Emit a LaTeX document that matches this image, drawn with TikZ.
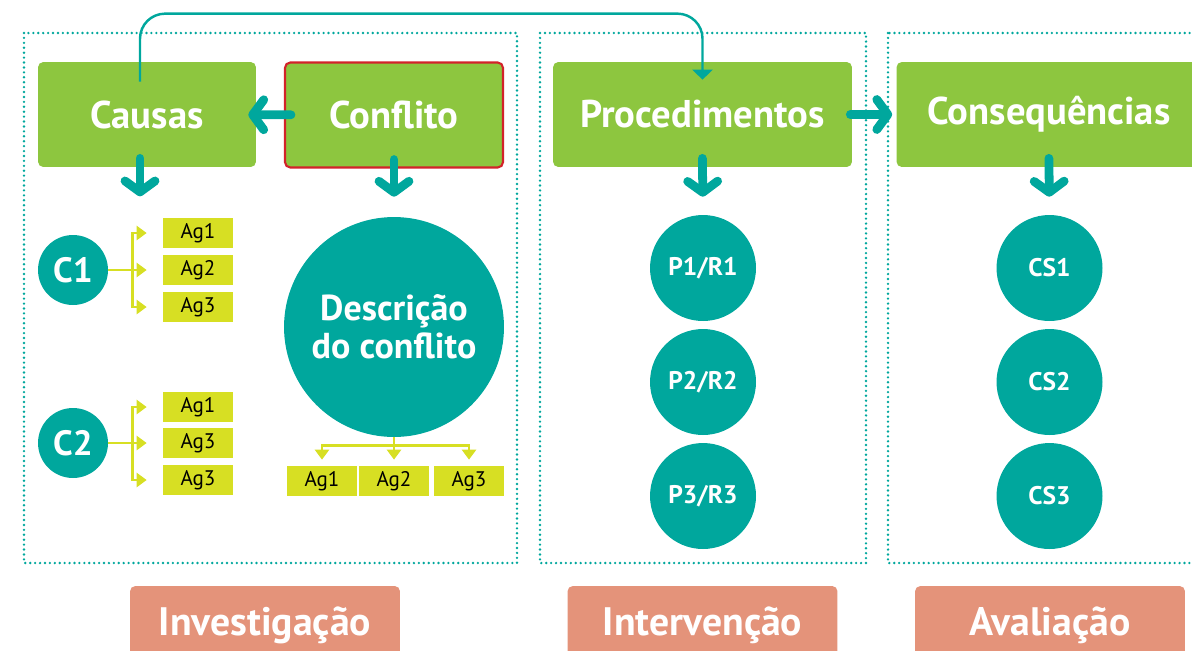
\documentclass[tikz,border=0pt]{standalone}
\usepackage{fontspec}
\setmainfont{PT Sans}
\usepackage{tikz}
\usetikzlibrary{arrows.meta}
\definecolor{verde}{HTML}{8DC63F}
\definecolor{petroleo}{HTML}{00A79D}
\definecolor{amarelo}{HTML}{D7DF23}
\definecolor{vermelho}{HTML}{D2232A}
\definecolor{salmao}{HTML}{E4937A}
\tikzset{
  caixa/.style={fill=verde, rounded corners=3pt, inner sep=0pt, minimum height=2.1cm, text=white, font=\bfseries\fontsize{22}{24}\selectfont},
  bola/.style={circle, fill=petroleo, inner sep=0pt, minimum size=2.12cm, text=white, font=\bfseries\fontsize{14.5}{16}\selectfont},
  ag/.style={fill=amarelo, inner sep=0pt, minimum width=1.4cm, minimum height=0.6cm, font=\fontsize{12}{13}\selectfont},
  moldura/.style={petroleo, line width=1.5pt, line cap=round, dash pattern=on 0pt off 2.8pt},
  seta/.style={petroleo, line width=5pt, line cap=round, -{Straight Barb[round, length=0.22cm, width=0.6cm]}},
  fina/.style={petroleo, line width=1.4pt, rounded corners=0.5cm, -{Triangle[length=0.2cm, width=0.4cm]}},
  ramo/.style={amarelo, line width=1.6pt, -{Triangle[length=0.2cm, width=0.28cm]}},
  fase/.style={fill=salmao, rounded corners=3pt, inner sep=0pt, minimum width=5.4cm, minimum height=1.56cm, text=white, font=\bfseries\fontsize{22.6}{24}\selectfont}
}
\begin{document}
\begin{tikzpicture}[x=0.02cm, y=-0.02cm]
\useasboundingbox (0,0) rectangle (1192,650);									% Rahmen des Bildes

\draw[moldura] (24,33) rectangle (517,563);									% Investigacao
\draw[moldura] (540,33) rectangle (866,563);									% Intervencao
\draw[moldura] (888,33) rectangle (1200,563);									% Avaliacao

\node[caixa, minimum width=4.36cm] (causas) at (147,114.5) {Causas};
\node[caixa, minimum width=4.36cm, draw=vermelho, line width=1.2pt] (conflito) at (394,115) {Conflito};
\node[caixa, minimum width=5.98cm] (procedimentos) at (702.5,114.5) {Procedimentos};
\node[caixa, minimum width=6.1cm] (consequencias) at (1049,114.5) {Consequências};

\node[bola, minimum size=1.4cm, font=\bfseries\fontsize{20}{22}\selectfont] (c1) at (73,270) {C1};
\node[bola, minimum size=1.4cm, font=\bfseries\fontsize{20}{22}\selectfont] (c2) at (73,443) {C2};
\node[bola, minimum size=4.4cm, align=center, font=\bfseries\fontsize{20.5}{21.5}\selectfont] (descricao) at (394,327) {Descrição\\do conflito};

\node[bola] (p1) at (703,268) {P1/R1};										% Procedimentos
\node[bola] (p2) at (703,382) {P2/R2};
\node[bola] (p3) at (703,496) {P3/R3};
\node[bola] (cs1) at (1049.5,268) {CS1};										% Consequencias
\node[bola] (cs2) at (1049.5,382) {CS2};
\node[bola] (cs3) at (1049.5,496) {CS3};

\node[ag] (ag11) at (198,233) {Ag1};											% Agentes C1
\node[ag] (ag12) at (198,270) {Ag2};
\node[ag] (ag13) at (198,307) {Ag3};
\node[ag] (ag21) at (198,407) {Ag1};											% Agentes C2
\node[ag] (ag22) at (198,443) {Ag3};
\node[ag] (ag23) at (198,480) {Ag3};
\node[ag] (agd1) at (322,481) {Ag1};											% Agentes Descricao
\node[ag] (agd2) at (394,481) {Ag2};
\node[ag] (agd3) at (469,481) {Ag3};

\foreach \n in {1,2,3} {
  \draw[ramo] (c1.east) -- ++(24,0) |- ([xshift=-0.32cm]ag1\n.west);		% Gabel C1
  \draw[ramo] (c2.east) -- ++(24,0) |- ([xshift=-0.32cm]ag2\n.west);		% Gabel C2
  \draw[ramo] (descricao.south) -- ++(0,8) -| ([yshift=0.12cm]agd\n.north);	% Gabel Descricao
}

\draw[seta, shorten <=-0.14cm, shorten >=-0.16cm] (conflito) -- (causas);
\draw[seta, shorten <=-0.04cm, shorten >=0.08cm] (procedimentos) -- (consequencias);
\draw[seta] ([xshift=-0.14cm,yshift=0.18cm]causas.south) -- ++(0,38);
\draw[seta, shorten <=-0.18cm, shorten >=0.4cm] (conflito.south) -- (descricao.north);
\draw[seta, shorten <=-0.18cm, shorten >=0.36cm] (procedimentos.south) -- (p1.north);
\draw[seta, shorten <=-0.18cm, shorten >=0.36cm] (consequencias.south) -- (cs1.north);
\draw[fina] ([xshift=-0.14cm,yshift=-0.4cm]causas.north) -- ++(0,-68) -| ([yshift=-0.36cm]procedimentos.north);

\node[fase] (investigacao) at (265,625) {Investigação};
\node[fase] (intervencao) at (702.5,625) {Intervenção};
\node[fase] (avaliacao) at (1050,625) {Avaliação};
\end{tikzpicture}
\end{document}
